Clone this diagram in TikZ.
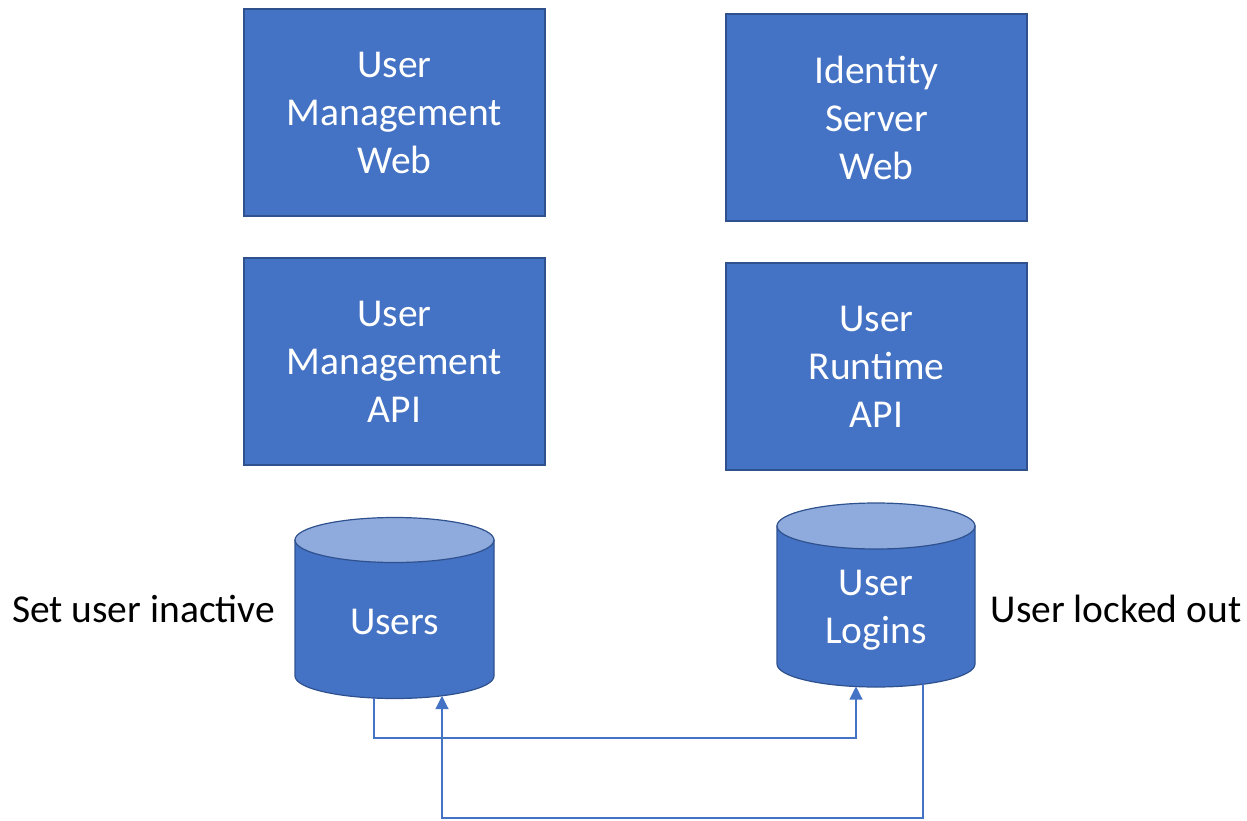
\documentclass[tikz,border=0pt]{standalone}
\usepackage{fontspec}
\setmainfont{Carlito}
\usetikzlibrary{arrows.meta}
\definecolor{boxblue}{HTML}{4472C4}
\definecolor{boxedge}{HTML}{2F528F}
\definecolor{toplight}{HTML}{8FAADC}
\definecolor{linkblue}{HTML}{4472C4}
\tikzset{
  svcbox/.style={draw=boxedge, line width=1.2pt, fill=boxblue, text=white,
    minimum width=301pt, minimum height=207pt, inner sep=0pt, align=center,
    font=\fontsize{39.5}{48}\selectfont},
  cyltext/.style={text=white, align=center, inner sep=0pt,
    font=\fontsize{39.5}{48}\selectfont},
  sidelabel/.style={text=black, inner sep=0pt, font=\fontsize{39.5}{48}\selectfont},
  cylbody/.style={draw=boxedge, line width=1.2pt, fill=boxblue},
  cyltop/.style={draw=boxedge, line width=1.2pt, fill=toplight},
  link/.style={draw=linkblue, line width=1.1pt, -{Triangle[width=13pt,length=13pt]}},
}
\begin{document}
\begin{tikzpicture}[x=1pt,y=1pt]
\useasboundingbox (0,0) rectangle (1247,-821);
% boxes
\node[svcbox] (umweb) at (394.5,-112.5) {User\\Management\\Web};
\node[svcbox] (isweb) at (876.5,-117.5) {Identity\\Server\\Web};
\node[svcbox] (umapi) at (394.5,-361.5) {User\\Management\\API};
\node[svcbox] (urapi) at (876.5,-366.5) {User\\Runtime\\API};
\path (umweb.center) ++(0,-2) coordinate (dummyA);
% Users cylinder
\path[cylbody] (295,-540) -- (295,-676) arc[start angle=180,end angle=360,x radius=99.5,y radius=22.5] -- (494,-540) -- cycle;
\path[cyltop] (394.5,-540) ellipse[x radius=99.5,y radius=22.5];
\node[cyltext] (users) at (394.5,-621.5) {Users};
% User Logins cylinder
\path[cylbody] (777,-526) -- (777,-664) arc[start angle=180,end angle=360,x radius=99,y radius=23] -- (975,-526) -- cycle;
\path[cyltop] (876,-526) ellipse[x radius=99,y radius=23];
\node[cyltext] (logins) at (876,-610.5) {User\\Logins};
% side labels
\node[sidelabel] (inactive) at (143.5,-609) {Set user inactive};
\node[sidelabel] (locked) at (1116,-609) {User locked out};
% connector anchors on cylinder bottoms
\coordinate (uout) at (374,-698);
\coordinate (uin) at (442,-696);
\coordinate (lin) at (856,-686.5);
\coordinate (lout) at (923,-684);
\coordinate (row1) at (0,-738);
\coordinate (row2) at (0,-818);
% connectors
\draw[link] (uout) -- (uout |- row1) -| (lin);
\draw[link] (lout) -- (lout |- row2) -| (uin);
\end{tikzpicture}
\end{document}
